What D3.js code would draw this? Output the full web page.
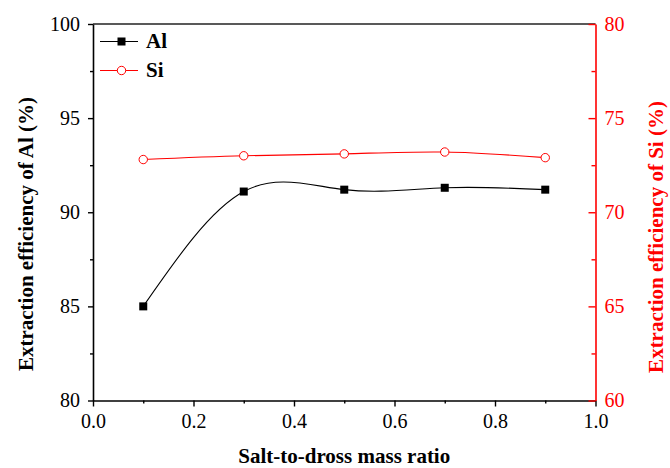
<!DOCTYPE html>
<html>
<head>
<meta charset="utf-8">
<script src="https://cdn.jsdelivr.net/npm/d3@7/dist/d3.min.js"></script>
<style>
  html, body { margin: 0; padding: 0; background: #fff; }
  svg { display: block; }
  svg text { font-family: "Liberation Serif", "Times New Roman", "DejaVu Serif", serif !important; }
</style>
</head>
<body>
<svg id="chart" width="670" height="468"></svg>
<script>
// Salt-to-dross mass ratio
const ratios = [0.1, 0.3, 0.5, 0.7, 0.9];
// Extraction efficiency of Al (%) — left axis
const alValues = [85.0, 91.1, 91.2, 91.3, 91.2];
// Extraction efficiency of Si (%) — right axis
const siValues = [72.8, 73.0, 73.1, 73.2, 72.9];

const xTicks = [0, 0.2, 0.4, 0.6, 0.8, 1.0];
const xMinorTicks = [0.1, 0.3, 0.5, 0.7, 0.9];
const yLeftTicks = [80, 85, 90, 95, 100];
const yLeftMinor = [82.5, 87.5, 92.5, 97.5];
const yRightTicks = [60, 65, 70, 75, 80];
const yRightMinor = [62.5, 67.5, 72.5, 77.5];

const RED = "#ff0000";
const svg = d3.select("#chart");

const plotLeft = 93, plotRight = 595.5, plotTop = 24, plotBottom = 400.5;

const x = d3.scaleLinear().domain([0, 1]).range([plotLeft, plotRight]);
const yL = d3.scaleLinear().domain([80, 100]).range([plotBottom, plotTop]);
const yR = d3.scaleLinear().domain([60, 80]).range([plotBottom, plotTop]);

// top frame line
svg.append("line")
  .attr("x1", x(0)).attr("x2", x(1))
  .attr("y1", plotTop).attr("y2", plotTop)
  .attr("stroke", "#222").attr("stroke-width", 1.5);

// bottom axis
const gx = svg.append("g").attr("transform", `translate(0,${plotBottom})`);
gx.call(d3.axisBottom(x).tickValues(xTicks).tickSize(6).tickSizeOuter(0).tickPadding(7)
  .tickFormat(d3.format(".1f")));
gx.append("g").call(d3.axisBottom(x).tickValues(xMinorTicks).tickSize(3).tickSizeOuter(0).tickFormat(""))
  .select(".domain").remove();

// left axis
const gl = svg.append("g").attr("transform", `translate(${plotLeft},0)`);
gl.call(d3.axisLeft(yL).tickValues(yLeftTicks).tickSize(5).tickSizeOuter(0).tickPadding(8));
gl.append("g").call(d3.axisLeft(yL).tickValues(yLeftMinor).tickSize(3).tickSizeOuter(0).tickFormat(""))
  .select(".domain").remove();

// right axis (ticks pointing inward)
const gr = svg.append("g").attr("transform", `translate(${plotRight},0)`);
gr.call(d3.axisRight(yR).tickValues(yRightTicks).tickSize(-7).tickSizeOuter(0).tickPadding(9));
gr.append("g").call(d3.axisRight(yR).tickValues(yRightMinor).tickSize(-4).tickSizeOuter(0).tickFormat(""))
  .select(".domain").remove();

[gx, gl, gr].forEach(g => g.attr("font-family", null).attr("font-size", null));
[gx, gl].forEach(g => {
  g.selectAll(".domain").attr("stroke", "#000").attr("stroke-width", 1.6);
  g.selectAll(".tick line").attr("stroke", "#000").attr("stroke-width", 1.4);
  g.selectAll(".tick text").attr("fill", "#000").style("font-size", "20px");
});
gr.selectAll(".domain").attr("stroke", RED).attr("stroke-width", 1.6);
gr.selectAll(".tick line").attr("stroke", RED).attr("stroke-width", 1.4);
gr.selectAll(".tick text").attr("fill", RED).style("font-size", "20px");

// series lines
const alLine = d3.line().x((d, i) => x(ratios[i])).y(d => yL(d)).curve(d3.curveNatural);
const siLine = d3.line().x((d, i) => x(ratios[i])).y(d => yR(d)).curve(d3.curveNatural);

svg.append("path").datum(siValues).attr("d", siLine)
  .attr("fill", "none").attr("stroke", RED).attr("stroke-width", 1.1);
svg.append("path").datum(alValues).attr("d", alLine)
  .attr("fill", "none").attr("stroke", "#000").attr("stroke-width", 1.1);

// markers
const sq = 8;
svg.append("g").selectAll("rect").data(alValues).join("rect")
  .attr("x", (d, i) => x(ratios[i]) - sq / 2)
  .attr("y", d => yL(d) - sq / 2)
  .attr("width", sq).attr("height", sq).attr("fill", "#000");

svg.append("g").selectAll("circle").data(siValues).join("circle")
  .attr("cx", (d, i) => x(ratios[i]))
  .attr("cy", d => yR(d))
  .attr("r", 4.2).attr("fill", "#fff").attr("stroke", RED).attr("stroke-width", 1);

// legend
const legend = svg.append("g");
const legendItems = [
  { name: "Al", y: 41.5, color: "#000", marker: "square" },
  { name: "Si", y: 70.5, color: RED, marker: "circle" }
];
legendItems.forEach(it => {
  legend.append("line").attr("x1", 100).attr("x2", 138).attr("y1", it.y).attr("y2", it.y)
    .attr("stroke", it.color).attr("stroke-width", 1.1);
  if (it.marker === "square") {
    legend.append("rect").attr("x", 121.5 - sq / 2).attr("y", it.y - sq / 2)
      .attr("width", sq).attr("height", sq).attr("fill", "#000");
  } else {
    legend.append("circle").attr("cx", 121.5).attr("cy", it.y).attr("r", 4.2)
      .attr("fill", "#fff").attr("stroke", RED).attr("stroke-width", 1);
  }
  legend.append("text").attr("x", 146).attr("y", it.y + 6.5)
    .style("font-size", "21px").attr("font-weight", "bold").attr("fill", "#000")
    .text(it.name);
});

// axis titles
svg.append("text")
  .attr("x", (plotLeft + plotRight) / 2).attr("y", 463)
  .attr("text-anchor", "middle").style("font-size", "21px").attr("font-weight", "bold")
  .attr("fill", "#000").text("Salt-to-dross mass ratio");

svg.append("text")
  .attr("transform", `translate(33,${234}) rotate(-90)`)
  .attr("text-anchor", "middle").style("font-size", "21px").attr("font-weight", "bold")
  .attr("fill", "#000").text("Extraction efficiency of Al (%)");

svg.append("text")
  .attr("transform", `translate(663,${237}) rotate(-90)`)
  .attr("text-anchor", "middle").style("font-size", "21px").attr("font-weight", "bold")
  .attr("fill", RED).text("Extraction efficiency of Si (%)");
</script>
</body>
</html>
